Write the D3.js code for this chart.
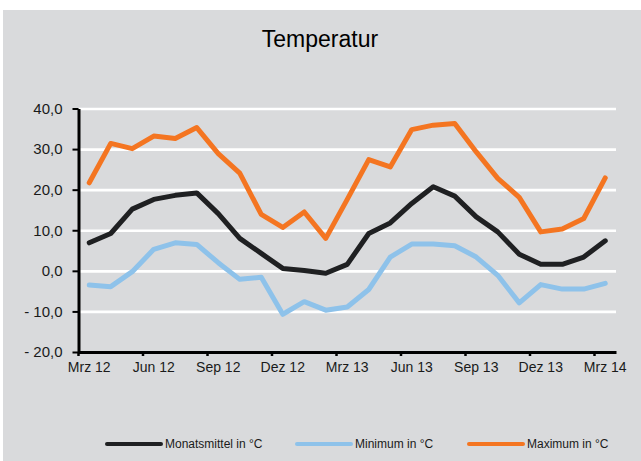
<!DOCTYPE html>
<html>
<head>
<meta charset="utf-8">
<script src="https://cdn.jsdelivr.net/npm/d3@7"></script>
<style>
  html, body { margin: 0; padding: 0; background: #ffffff; }
  svg { display: block; }
  text { font-family: "Liberation Sans", Arial, sans-serif; }
</style>
</head>
<body>
<svg id="chart" width="641" height="461"></svg>
<script>
const months = ["Mrz 12","Apr 12","Mai 12","Jun 12","Jul 12","Aug 12","Sep 12","Okt 12","Nov 12","Dez 12",
  "Jan 13","Feb 13","Mrz 13","Apr 13","Mai 13","Jun 13","Jul 13","Aug 13","Sep 13","Okt 13","Nov 13","Dez 13",
  "Jan 14","Feb 14","Mrz 14"];
const mittel  = [6.9, 9.2, 15.2, 17.6, 18.6, 19.2, 14.1, 8.0, 4.3, 0.6, 0.1, -0.6, 1.6, 9.2, 11.8, 16.6, 20.7, 18.4, 13.3, 9.6, 4.1, 1.6, 1.6, 3.4, 7.4];
const minimum = [-3.5, -3.9, -0.2, 5.3, 6.9, 6.5, 2.0, -2.1, -1.6, -10.7, -7.6, -9.7, -8.9, -4.6, 3.4, 6.6, 6.6, 6.2, 3.4, -1.1, -7.9, -3.4, -4.5, -4.5, -3.1];
const maximum = [21.7, 31.4, 30.1, 33.2, 32.6, 35.3, 28.9, 24.1, 13.9, 10.7, 14.5, 8.0, 17.6, 27.4, 25.6, 34.8, 35.9, 36.3, 29.3, 22.8, 18.1, 9.6, 10.3, 12.9, 22.9];
const yTicks = [-20, -10, 0, 10, 20, 30, 40];
const xTickLabels = ["Mrz 12","Jun 12","Sep 12","Dez 12","Mrz 13","Jun 13","Sep 13","Dez 13","Mrz 14"];
const seriesNames = ["Monatsmittel in °C", "Minimum in °C", "Maximum in °C"];
const seriesColors = ["#1f2022", "#8ec2ea", "#f47521"];

const svg = d3.select("#chart");
svg.append("rect").attr("x", 3).attr("y", 10).attr("width", 638).attr("height", 451).attr("fill", "#d9dadc");

const mLeft = 78.5, mRight = 616, mTop = 108.5, mBottom = 352;
const x = d3.scaleBand().domain(months).range([mLeft, mRight]).paddingInner(0).paddingOuter(0);
const y = d3.scaleLinear().domain([-20, 40]).range([mBottom, mTop]);

const fmt = v => (v < 0 ? "- " : "") + d3.format(".1f")(Math.abs(v)).replace(".", ",");

// gridlines
svg.append("g").attr("transform", `translate(${mLeft},0)`)
  .call(d3.axisLeft(y).tickValues(yTicks.filter(v => v > -20)).tickSize(-(mRight - mLeft)).tickFormat(""))
  .call(g => g.select(".domain").remove())
  .call(g => g.selectAll("line").attr("stroke", "#ffffff").attr("stroke-width", 2.6));

// lines
const cx = d => x(d) + x.bandwidth() / 2;
const line = d3.line().x((d, i) => cx(months[i])).y(d => y(d));
[mittel, minimum, maximum].forEach((s, k) => {
  svg.append("path").datum(s).attr("d", line)
    .attr("fill", "none").attr("stroke", seriesColors[k]).attr("stroke-width", 5)
    .attr("stroke-linejoin", "round").attr("stroke-linecap", "round");
});

// y axis
const yAx = svg.append("g").attr("transform", `translate(${mLeft},0)`)
  .call(d3.axisLeft(y).tickValues(yTicks).tickSize(6).tickPadding(10).tickFormat(fmt).tickSizeOuter(0));
yAx.select(".domain").attr("stroke", "#000").attr("stroke-width", 3);
yAx.selectAll(".tick line").attr("stroke", "#000").attr("stroke-width", 2);
yAx.selectAll("text").attr("font-size", 15).attr("fill", "#1a1a1a")
  .attr("font-family", "'Liberation Sans', Arial, sans-serif");

// x axis
const xAx = svg.append("g").attr("transform", `translate(0,${mBottom})`)
  .call(d3.axisBottom(x).tickValues(xTickLabels).tickSize(0).tickPadding(10).tickSizeOuter(0));
xAx.select(".domain").attr("stroke", "#000").attr("stroke-width", 3);
xAx.selectAll("text").attr("font-size", 14).attr("fill", "#1a1a1a")
  .attr("font-family", "'Liberation Sans', Arial, sans-serif");
svg.append("g").selectAll("line").data(xTickLabels).join("line")
  .attr("x1", d => x(d)).attr("x2", d => x(d))
  .attr("y1", mBottom).attr("y2", mBottom + 4)
  .attr("stroke", "#000").attr("stroke-width", 2.5);

// title
svg.append("text").attr("x", 320).attr("y", 47).attr("text-anchor", "middle")
  .attr("font-size", 23).attr("fill", "#000").text("Temperatur");

// legend
const legX = [107, 297, 469];
const leg = svg.append("g").selectAll("g").data(seriesNames).join("g")
  .attr("transform", (d, i) => `translate(${legX[i]},444)`);
leg.append("line").attr("x1", 0).attr("x2", 54).attr("y1", 0).attr("y2", 0)
  .attr("stroke", (d, i) => seriesColors[i]).attr("stroke-width", 4).attr("stroke-linecap", "round");
leg.append("text").attr("x", 58).attr("y", 4).attr("font-size", 12).attr("fill", "#1a1a1a").text(d => d);
</script>
</body>
</html>
